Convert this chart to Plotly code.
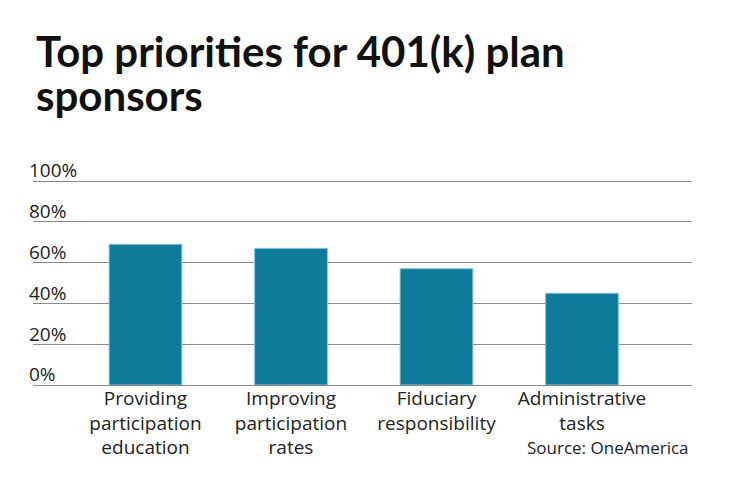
import plotly.graph_objects as go

categories = ["Providing<br>participation<br>education", "Improving<br>participation<br>rates",
              "Fiduciary<br>responsibility", "Administrative<br>tasks"]
values = [69, 67, 57, 45]
y_ticks = [0, 20, 40, 60, 80, 100]
y_tick_labels = ["0%", "20%", "40%", "60%", "80%", "100%"]
title_lines = ["Top priorities for 401(k) plan", "sponsors"]
source_text = "Source: OneAmerica"

FONT = "Open Sans"
TFONT = "Lato"
W, H = 740, 482
OFF = 8  # page body margin
YMAX = 101
L, R, T, B = 33 - OFF, 48 + OFF, 179 - OFF, 97 + OFF

fig = go.Figure(go.Bar(
    x=list(range(len(categories))), y=values, width=0.5,
    marker=dict(color="#0e7b9a", line=dict(color="#8cc3d3", width=1)),
    hoverinfo="skip",
))

def ypaper(px):
    px = px - OFF
    return (H - B - px) / (H - T - B)

def xpaper(px):
    px = px - OFF
    return (px - L) / (W - L - R)

annotations = [
    dict(text="<b>%s</b>" % title_lines[0], xref="paper", yref="paper",
         x=xpaper(34), xanchor="left", y=ypaper(51), yanchor="middle",
         showarrow=False, font=dict(family=TFONT, size=42, color="#111")),
    dict(text="<b>%s</b>" % title_lines[1], xref="paper", yref="paper",
         x=xpaper(34), xanchor="left", y=ypaper(95), yanchor="middle",
         showarrow=False, font=dict(family=TFONT, size=42, color="#111")),
    dict(text=source_text, xref="paper", yref="paper",
         x=xpaper(691), xanchor="right", y=ypaper(447), yanchor="middle",
         showarrow=False, font=dict(family=FONT, size=17, color="#222")),
]

fig.update_layout(
    width=W, height=H,
    margin=dict(l=L, r=R, t=T, b=B),
    plot_bgcolor="white", paper_bgcolor="white",
    showlegend=False,
    xaxis=dict(
        tickmode="array", tickvals=list(range(len(categories))), ticktext=categories,
        range=[-0.773, 3.756], showgrid=False, zeroline=False, showline=False,
        ticks="", automargin=False,
        tickfont=dict(family=FONT, size=19, color="#222"),
    ),
    yaxis=dict(
        range=[0, YMAX], tickvals=y_ticks, ticktext=y_tick_labels,
        showgrid=True, gridcolor="#8a8a8a", gridwidth=1,
        zeroline=True, zerolinecolor="#8a8a8a", zerolinewidth=1,
        showline=False, ticks="", ticklabelposition="inside top",
        ticklabeloverflow="allow", ticklabelstandoff=-7, ticklabelshift=3,
        automargin=False,
        tickfont=dict(family=FONT, size=19, color="#222"),
    ),
    annotations=annotations,
)

fig.write_html("out.html")
